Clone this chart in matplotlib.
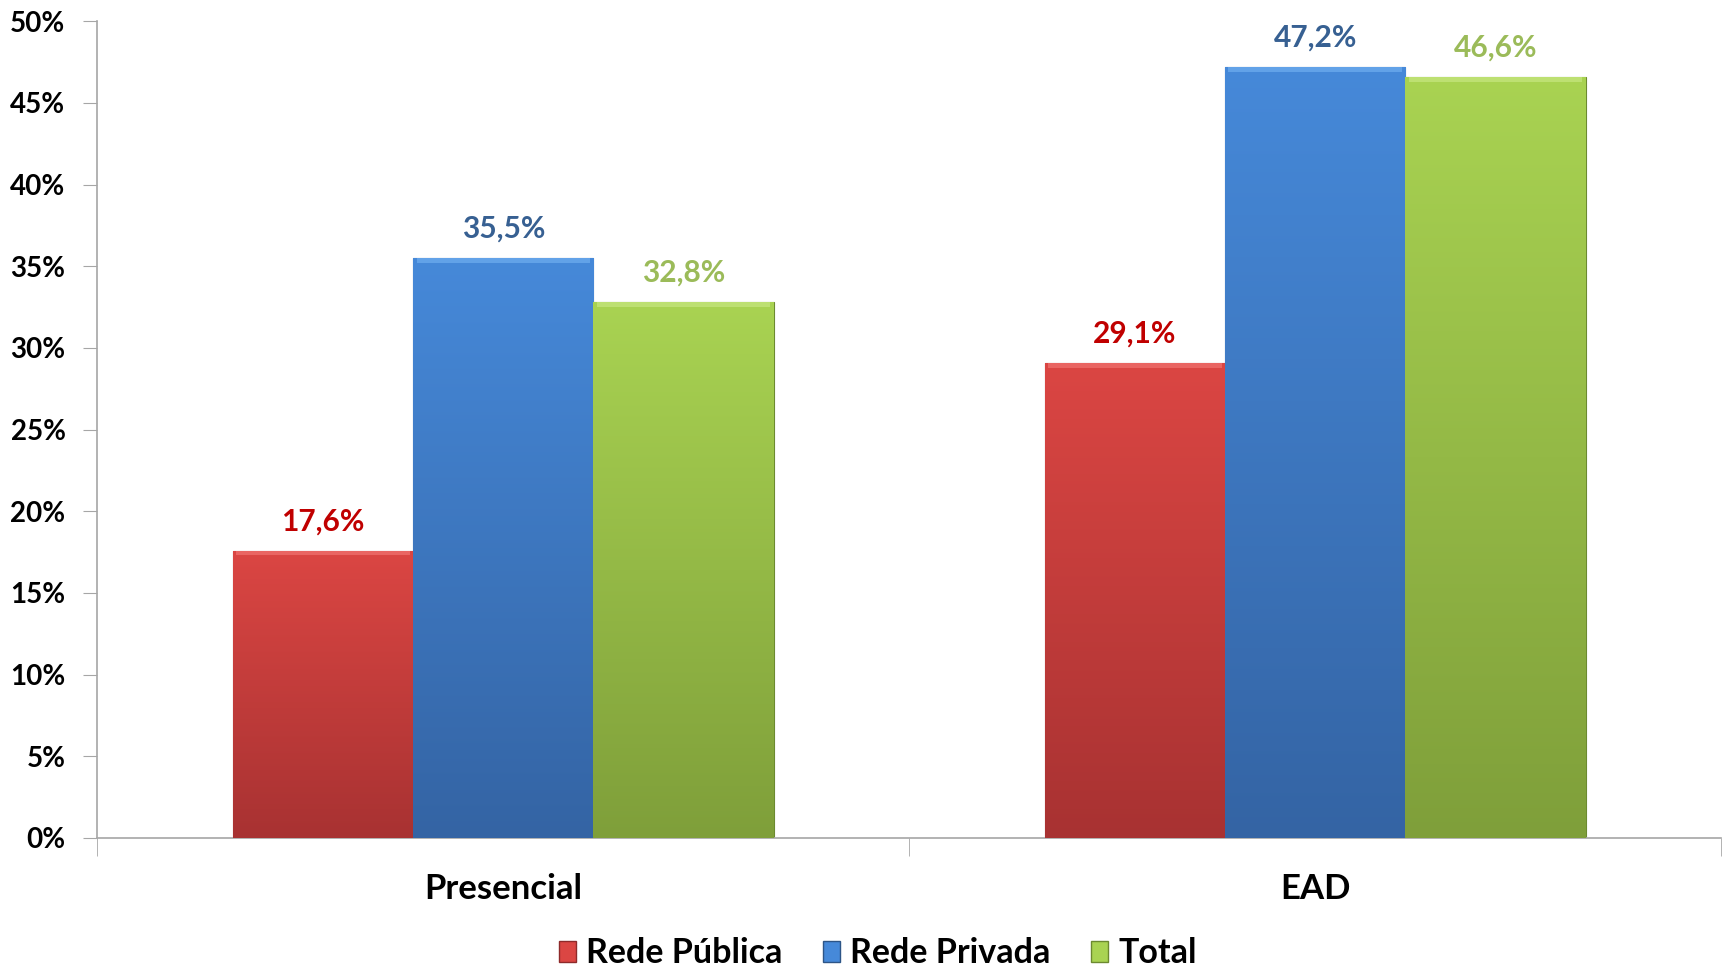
import numpy as np
import matplotlib.pyplot as plt
from matplotlib.colors import LinearSegmentedColormap
from matplotlib.patches import Rectangle, Patch

# Chart data
categories = ['Presencial', 'EAD']
series_names = ['Rede Pública', 'Rede Privada', 'Total']
rede_publica = [17.6, 29.1]
rede_privada = [35.5, 47.2]
total = [32.8, 46.6]
y_ticks = [0, 5, 10, 15, 20, 25, 30, 35, 40, 45, 50]

# Styling: (top colour, bottom colour, bevel colour, edge colour, label colour)
styles = [
    ('#DB4643', '#A83232', '#E96562', '#8E2A2A', '#C00000'),
    ('#4689D9', '#3464A4', '#62A2E8', '#2D5587', '#376092'),
    ('#A9D352', '#7F9F3A', '#BDE072', '#6C8A30', '#9BBB59'),
]

plt.rcParams['font.family'] = ['Lato', 'DejaVu Sans']
plt.rcParams['font.weight'] = 'bold'

fig = plt.figure(figsize=(17.28, 9.68), dpi=100)
ax = fig.add_axes([0.0564, 0.1343, 0.9396, 0.8437])

width = 0.222
x = np.arange(len(categories))
grad = np.linspace(0, 1, 256).reshape(-1, 1)

for i, (vals, style) in enumerate(zip([rede_publica, rede_privada, total], styles)):
    top_c, bot_c, bevel_c, edge_c, lab_c = style
    bars = ax.bar(x + (i - 1) * width, vals, width, color=bot_c,
                  edgecolor=edge_c, linewidth=0.8, zorder=2)
    cmap = LinearSegmentedColormap.from_list('g%d' % i, [bot_c, top_c])
    for b in bars:
        x0, w, h = b.get_x(), b.get_width(), b.get_height()
        im = ax.imshow(grad, cmap=cmap, extent=[x0, x0 + w, 0, h],
                       origin='lower', aspect='auto', zorder=3)
        im.set_clip_path(b)
        # light bevel along the top edge
        ax.add_patch(Rectangle((x0 + 0.004, h - 0.3), w - 0.008, 0.3,
                               color=bevel_c, lw=0, zorder=4))
        ax.annotate(f'{h:.1f}%'.replace('.', ','), (x0 + w / 2, h),
                    xytext=(0, 11), textcoords='offset points',
                    ha='center', va='bottom', color=lab_c,
                    fontsize=21.5, fontweight='bold')

ax.set_xlim(-0.5, 1.5)
ax.set_ylim(0, 50)

for side in ['top', 'right']:
    ax.spines[side].set_visible(False)
for side in ['left', 'bottom']:
    ax.spines[side].set_color('#A6A6A6')
    ax.spines[side].set_linewidth(1.2)

ax.set_yticks(y_ticks)
ax.set_yticklabels([f'{v}%' for v in y_ticks])
ax.tick_params(axis='y', direction='out', length=10, color='#A6A6A6',
               labelsize=20, pad=13)

ax.set_xticks(x)
ax.set_xticklabels(categories)
ax.tick_params(axis='x', which='major', length=0, labelsize=25, pad=25)
ax.set_xticks([-0.5, 0.5, 1.5], minor=True)
ax.tick_params(axis='x', which='minor', direction='out', length=13,
               color='#A6A6A6')

handles = [Patch(facecolor=s[0], edgecolor=s[3]) for s in styles]
fig.legend(handles, series_names, loc='center', bbox_to_anchor=(0.508, 0.015),
           ncol=3, frameon=False, fontsize=24.5, handlelength=0.5,
           handleheight=0.6, handletextpad=0.3, columnspacing=1.2)

fig.savefig('out.png', dpi=100)
